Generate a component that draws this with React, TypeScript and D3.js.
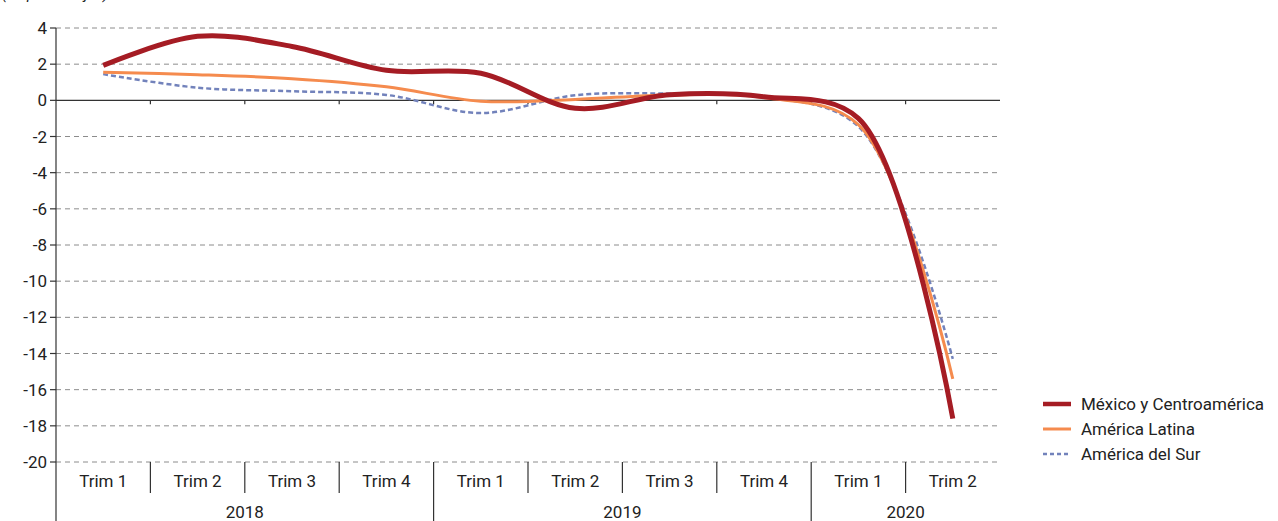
import React from 'react';
import * as d3 from 'd3';

const quarters = ['Trim 1', 'Trim 2', 'Trim 3', 'Trim 4', 'Trim 1', 'Trim 2', 'Trim 3', 'Trim 4', 'Trim 1', 'Trim 2'];
const years = [
  { label: '2018', start: 0, end: 4 },
  { label: '2019', start: 4, end: 8 },
  { label: '2020', start: 8, end: 10 },
];
const yTicks = [4, 2, 0, -2, -4, -6, -8, -10, -12, -14, -16, -18, -20];

const mexico = [1.93, 3.54, 2.98, 1.66, 1.5, -0.44, 0.31, 0.2, -1.0, -17.6];
const latina = [1.55, 1.42, 1.2, 0.75, -0.05, 0.05, 0.3, 0.15, -1.35, -15.4];
const sur = [1.45, 0.7, 0.5, 0.3, -0.7, 0.28, 0.37, 0.2, -1.45, -14.3];

const series = [
  { name: 'México y Centroamérica', values: mexico, color: '#a51c24', width: 5, dash: null },
  { name: 'América Latina', values: latina, color: '#f58b4e', width: 3, dash: null },
  { name: 'América del Sur', values: sur, color: '#7282bb', width: 2.5, dash: '5,3' },
];

const FONT = 'Roboto, "Liberation Sans", sans-serif';

export default function App() {
  const W = 1278;
  const H = 521;
  const left = 56;
  const right = 1000;
  const top = 28;
  const bottom = 462;

  const x = d3.scaleBand<number>().domain(d3.range(quarters.length)).range([left, right]).padding(0);
  const y = d3.scaleLinear().domain([-20, 4]).range([bottom, top]);
  const cx = (i: number) => (x(i) as number) + x.bandwidth() / 2;

  const line = d3
    .line<number>()
    .x((_, i) => cx(i))
    .y((d) => y(d))
    .curve(d3.curveCatmullRom.alpha(0.5));

  const drawOrder = [sur, latina, mexico].map((v) => series.find((s) => s.values === v)!);

  return (
    <div style={{ position: 'absolute', left: 0, top: 0 }}>
      <svg width={W} height={H} style={{ display: 'block', background: '#fff' }} fontFamily={FONT}>
        {/* cut-off subtitle */}
        <text x={2} y={-1} fontSize={15} fontStyle="italic" fill="#222">(En porcentajes)</text>

        {/* grid */}
        {yTicks.filter((t) => t !== 0).map((t) => (
          <line key={t} x1={left} x2={right} y1={y(t)} y2={y(t)} stroke="#8c8c8c" strokeWidth={1} strokeDasharray="5,4" />
        ))}

        {/* y axis */}
        <line x1={left} x2={left} y1={top} y2={H} stroke="#333" strokeWidth={1.2} />
        {yTicks.map((t) => (
          <g key={t}>
            <line x1={left - 6} x2={left} y1={y(t)} y2={y(t)} stroke="#333" strokeWidth={1.2} />
            <text x={left - 9} y={y(t)} dy="0.36em" textAnchor="end" fontSize={17} fill="#222">{t}</text>
          </g>
        ))}

        {/* zero line */}
        <line x1={left} x2={right} y1={y(0)} y2={y(0)} stroke="#333" strokeWidth={1.2} />
        {d3.range(1, quarters.length).map((i) => (
          <line key={i} x1={x(i)} x2={x(i)} y1={y(0)} y2={y(0) + 4} stroke="#333" strokeWidth={1.2} />
        ))}

        {/* category axis */}
        {quarters.map((q, i) => (
          <text key={i} x={cx(i)} y={bottom + 25} textAnchor="middle" fontSize={17} fill="#222">{q}</text>
        ))}
        {d3.range(1, quarters.length).map((i) => {
          const isYear = years.some((yr) => yr.start === i);
          return (
            <line key={i} x1={x(i)} x2={x(i)} y1={bottom} y2={isYear ? H : bottom + 31} stroke="#333" strokeWidth={1.2} />
          );
        })}
        {years.map((yr) => {
          const x0 = x(yr.start) as number;
          const x1 = yr.end >= quarters.length ? right : (x(yr.end) as number);
          return (
            <text key={yr.label} x={(x0 + x1) / 2} y={bottom + 56} textAnchor="middle" fontSize={17} fill="#222">{yr.label}</text>
          );
        })}

        {/* series */}
        {drawOrder.map((s) => (
          <path
            key={s.name}
            d={line(s.values) || ''}
            fill="none"
            stroke={s.color}
            strokeWidth={s.width}
            strokeDasharray={s.dash || undefined}
          />
        ))}

        {/* legend */}
        {series.map((s, i) => (
          <g key={s.name} transform={`translate(1043, ${404 + i * 25})`}>
            <line x1={0} x2={28} y1={0} y2={0} stroke={s.color} strokeWidth={s.width === 5 ? 4.5 : s.width} strokeDasharray={s.dash ? '4,3' : undefined} />
            <text x={38} y={0} dy="0.36em" fontSize={17} fill="#222">{s.name}</text>
          </g>
        ))}
      </svg>
    </div>
  );
}
